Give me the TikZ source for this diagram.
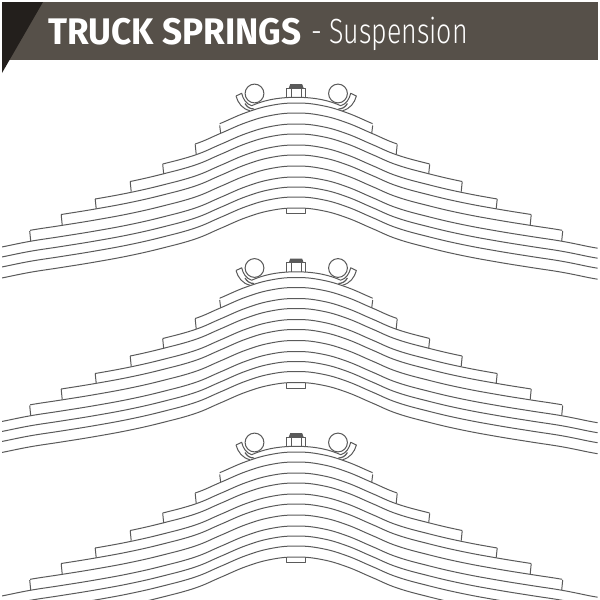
\documentclass[tikz,border=0pt]{standalone}
\usepackage{fontspec}
\setmainfont{Fira Sans}
\newfontfamily\titlefont{Fira Sans Bold}
\newfontfamily\subfont{Fira Sans Light}
\definecolor{band}{HTML}{565049}
\definecolor{wedge}{HTML}{231F1C}
\definecolor{ink}{HTML}{5A5A5A}
\tikzset{
  inkline/.style={draw=ink,line width=1pt,line join=round},
  titletext/.style={text=white,anchor=west,inner sep=0pt},
}
% base leaf profile: axis at x=296.2, crown height 0
\def\baseleaf{plot[smooth,tension=.7] coordinates {
 (-7,71.4) (2.2,69.9) (30.2,64.3) (61.2,59.5) (95.2,54) (130.2,47.5) (162.7,40) (195.2,31) (220.2,20.5)
 (246.2,9.5) (271.2,2.4) (296.2,0) (321.2,2.4) (346.2,9.5) (372.2,20.5) (397.2,31) (429.7,40)
 (462.2,47.5) (497.2,54) (531.2,59.5) (562.2,64.3) (590.2,69.9) (599.4,71.4)}}
% \leafline{crown y}{left x}{right x}
\newcommand{\leafline}[3]{%
  \begin{scope}
    \clip (#2,-10) rectangle (#3,300);
    \draw[inkline,shift={(0,#1)}] \baseleaf;
  \end{scope}}
% \stepends{u}{top y}{bottom y}
\newcommand{\stepends}[3]{%
  \draw[inkline] ({296.2-#1},#2) -- ({296.2-#1+1},#3);
  \draw[inkline] ({296.2+#1},#2) -- ({296.2+#1-1},#3);}
\newcommand{\springset}{%
  \leafline{103}{219.7}{372.7}
  \leafline{113}{195.2}{397.2}
  \leafline{124}{162.7}{429.7}
  \leafline{134}{130.2}{462.2}
  \leafline{145}{95.2}{497.2}
  \leafline{155}{61.2}{531.2}
  \leafline{166}{30.2}{562.2}
  \leafline{177}{2}{597.5}
  \leafline{187}{2}{597.5}
  \leafline{197}{2}{597.5}
  \leafline{208}{2}{597.5}
  \stepends{76.5}{125.5}{133.5}
  \stepends{101}{144.3}{154.3}
  \stepends{133.5}{164.3}{174}
  \stepends{166}{181.7}{191.7}
  \stepends{201}{199}{208.7}
  \stepends{235}{214.7}{225}
  \stepends{266.5}{231}{241}
  % centre clip under the pack
  \draw[inkline] (286.5,208) -- (286.5,213.5) -- (305.9,213.5) -- (305.9,208);
  % seats and balls
  \draw[inkline] (254.5,93.5) circle (9.4);
  \draw[inkline] (338,93.5) circle (9.4);
  \draw[inkline] (236,96) -- (241.7,93.3) .. controls (243,99) and (246,104) .. (251.7,105.7)
     .. controls (262,101) and (276,97.3) .. (296.2,97.3)
     .. controls (316.4,97.3) and (330.4,101) .. (340.7,105.7)
     .. controls (346.4,104) and (349.4,99) .. (350.7,93.3) -- (356.4,96)
     .. controls (354.5,103) and (350,109) .. (342.4,110.7);
  \draw[inkline] (236,96) .. controls (237.9,103) and (242.4,109) .. (250,110.7);
  \draw[ink,line width=1.2pt] (245,103.5) .. controls (247,107) and (250,109) .. (254,109);
  \draw[ink,line width=1.2pt] (347.4,103.5) .. controls (345.4,107) and (342.4,109) .. (338.4,109);
  % bolt
  \draw[inkline] (286.7,97.5) -- (286.7,88) -- (305.9,88) -- (305.9,97.5);
  \draw[inkline] (291.5,88) -- (291.5,97.3) (301,88) -- (301,97.3);
  \fill[ink] (288.8,88) -- (290.2,84.2) -- (302.2,84.2) -- (303.6,88) -- cycle;
}
\begin{document}
\begin{tikzpicture}[x=1pt,y=-1pt]
  \useasboundingbox (0,0) rectangle (600,600);
  \fill[white] (0,0) rectangle (600,600);
  \clip (0,0) rectangle (600,600);
  \fill[band] (2,2) rectangle (597.5,60);
  \fill[wedge] (2,2) -- (43,2) -- (2,73) -- cycle;
  \node[titletext,xscale=.95,font=\titlefont\fontsize{37}{37}\selectfont] (title) at (48,32) {TRUCK SPRINGS};
  \node[titletext,xscale=.765,font=\subfont\fontsize{35}{35}\selectfont] (sub) at (311,34) {- Suspension};
  \begin{scope}\springset\end{scope}
  \begin{scope}[shift={(0,174.5)}]\springset\end{scope}
  \begin{scope}[shift={(0,349)}]\springset\end{scope}
\end{tikzpicture}
\end{document}
